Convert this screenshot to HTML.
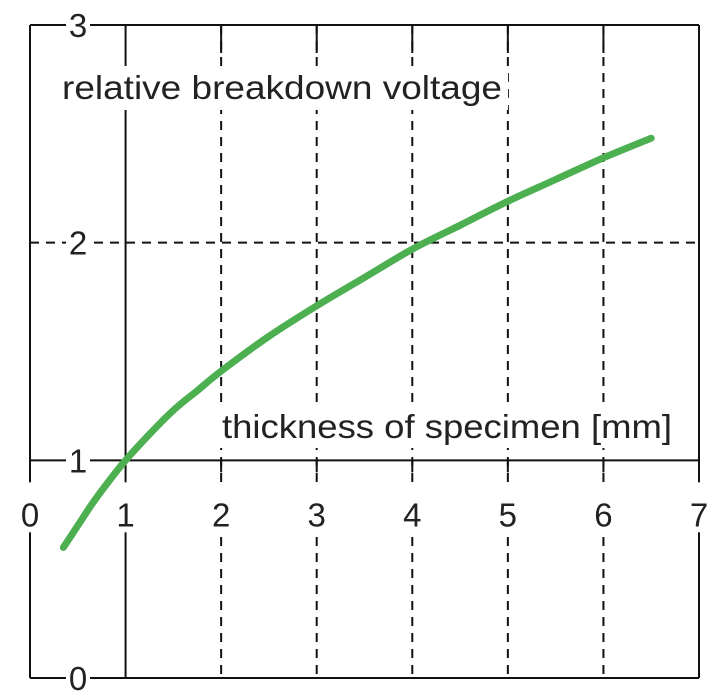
<!DOCTYPE html>
<html><head><meta charset="utf-8"><style>
html,body{margin:0;padding:0;background:#fff;}
svg{display:block;font-family:"Liberation Sans",sans-serif;}
</style></head><body>
<svg id="chart" width="722" height="700" viewBox="0 0 722 700">
<g id="grid"></g>
<rect x="56" y="66" width="452" height="44" fill="#fff"/>
<rect x="216" y="402" width="462" height="46" fill="#fff"/>
<g id="curve"></g>
<g id="labels"></g>
<text x="62" y="99" font-size="33" textLength="440" lengthAdjust="spacingAndGlyphs" fill="#222">relative breakdown voltage</text>
<text x="222" y="438" font-size="33" textLength="450" lengthAdjust="spacingAndGlyphs" fill="#222">thickness of specimen [mm]</text>
</svg>
<script>
const xTicks = [0,1,2,3,4,5,6,7];
const yTicks = [0,1,2,3];
const thickness = [0.35,0.5,0.65,0.8,1,1.25,1.5,1.75,2,2.5,3,3.5,4,4.5,5,5.5,6,6.5];
const voltage = [0.6,0.7,0.8,0.89,1.0,1.12,1.23,1.32,1.41,1.57,1.71,1.84,1.97,2.08,2.19,2.29,2.39,2.48];
const NS='http://www.w3.org/2000/svg';
const X0=30,X1=699,Y0=678,Y1=25;
function sx(v){return X0+(v-0)/(7-0)*(X1-X0);}
function sy(v){return Y0-(v-0)/(3-0)*(Y0-Y1);}
function mk(tag,attrs,parent){const e=document.createElementNS(NS,tag);for(const k in attrs)e.setAttribute(k,attrs[k]);parent.appendChild(e);return e;}
const grid=document.getElementById('grid');
xTicks.forEach(t=>{
  const solid=(t===0||t===1||t===7);
  const l=mk('line',{x1:sx(t),x2:sx(t),y1:Y1,y2:Y0,stroke:'#111','stroke-width':2,'stroke-dasharray':solid?'none':'9,7'},grid);
  
  
  if(!solid){
    const a=mk('line',{x1:sx(t),x2:sx(t),y1:Y1,y2:Y1+28,stroke:'#111','stroke-width':2},grid);
    
    
    const b=mk('line',{x1:sx(t),x2:sx(t),y1:sy(1),y2:sy(1)+12,stroke:'#111','stroke-width':2},grid);
    
    
  }
});
yTicks.forEach(t=>{
  const solid=(t!==2);
  const l=mk('line',{x1:X0,x2:X1,y1:sy(t),y2:sy(t),stroke:'#111','stroke-width':2,'stroke-dasharray':solid?'none':'9,7'},grid);
  
  
});
const cv=document.getElementById('curve');
const lab=document.getElementById('labels');
const gap=mk('rect',{x:0,y:sy(1)+22,width:722,height:50,fill:'#fff'},grid);


// smooth Catmull-Rom path through data points
const pts=thickness.map((v,i)=>[sx(v),sy(voltage[i])]);
let d='M'+pts[0][0].toFixed(1)+','+pts[0][1].toFixed(1);
for(let i=0;i<pts.length-1;i++){
  const p0=pts[i-1]||pts[i],p1=pts[i],p2=pts[i+1],p3=pts[i+2]||p2;
  const c1=[p1[0]+(p2[0]-p0[0])/6,p1[1]+(p2[1]-p0[1])/6];
  const c2=[p2[0]-(p3[0]-p1[0])/6,p2[1]-(p3[1]-p1[1])/6];
  d+=' C'+c1.map(n=>n.toFixed(1)).join(',')+' '+c2.map(n=>n.toFixed(1)).join(',')+' '+p2.map(n=>n.toFixed(1)).join(',');
}
const p=mk('path',{d:d,fill:'none',stroke:'#4caf50','stroke-width':7,'stroke-linecap':'round','stroke-linejoin':'round'},cv);


xTicks.forEach(t=>{
  const e=mk('text',{x:sx(t),y:sy(1)+66,'font-size':33,'text-anchor':'middle',fill:'#222'},lab);
  e.textContent=t;
  
  
});
yTicks.forEach(t=>{
  const r=mk('rect',{x:66,y:sy(t)-14,width:24,height:28,fill:'#fff'},lab);
  
  
  const e=mk('text',{x:78,y:sy(t)+12,'font-size':33,'text-anchor':'middle',fill:'#222'},lab);
  e.textContent=t;
  
  
});
</script>
</body></html>
